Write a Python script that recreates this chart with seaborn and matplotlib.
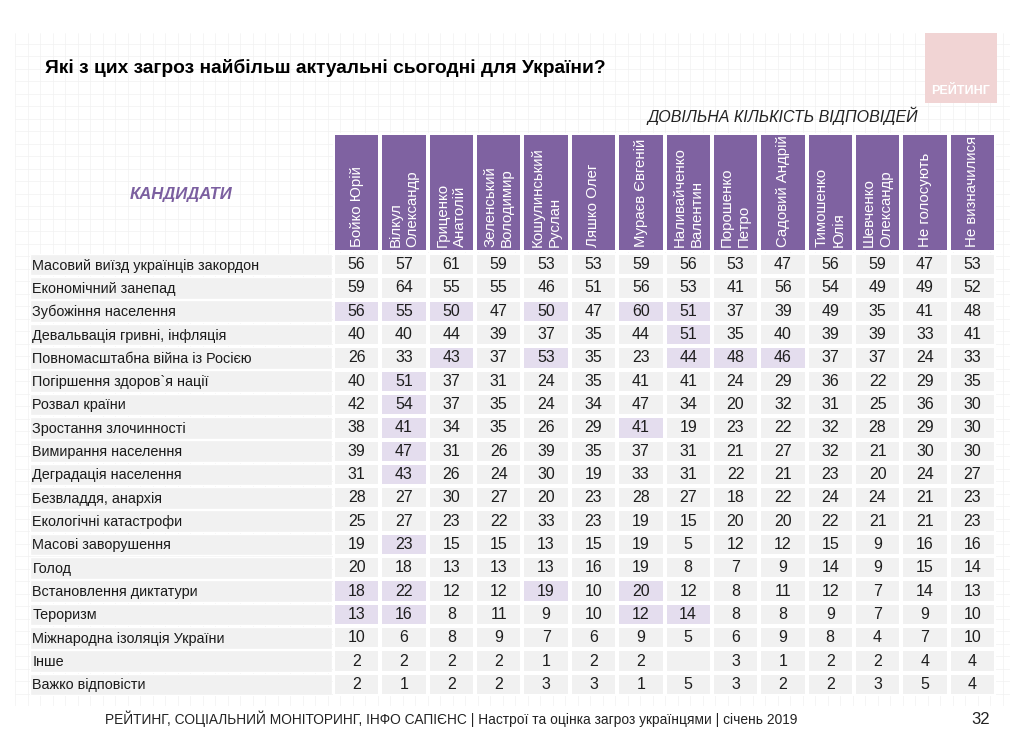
import numpy as np
import pandas as pd
import matplotlib.pyplot as plt
import seaborn as sns
from matplotlib.colors import ListedColormap
from matplotlib import font_manager

# --- data -------------------------------------------------------------
candidates = ["Бойко Юрій", "Вілкул\nОлександр", "Гриценко\nАнатолій",
              "Зеленський\nВолодимир", "Кошулинський\nРуслан", "Ляшко Олег",
              "Мураєв Євгеній", "Наливайченко\nВалентин", "Порошенко\nПетро",
              "Садовий Андрій", "Тимошенко\nЮлія", "Шевченко\nОлександр",
              "Не голосують", "Не визначилися"]

threats = ["Масовий виїзд українців закордон", "Економічний занепад",
           "Зубожіння населення", "Девальвація гривні, інфляція",
           "Повномасштабна війна із Росією", "Погіршення здоров`я нації",
           "Розвал країни", "Зростання злочинності", "Вимирання населення",
           "Деградація населення", "Безвладдя, анархія", "Екологічні катастрофи",
           "Масові заворушення", "Голод", "Встановлення диктатури", "Тероризм",
           "Міжнародна ізоляція України", "Інше", "Важко відповісти"]

values = [
    [56, 57, 61, 59, 53, 53, 59, 56, 53, 47, 56, 59, 47, 53],
    [59, 64, 55, 55, 46, 51, 56, 53, 41, 56, 54, 49, 49, 52],
    [56, 55, 50, 47, 50, 47, 60, 51, 37, 39, 49, 35, 41, 48],
    [40, 40, 44, 39, 37, 35, 44, 51, 35, 40, 39, 39, 33, 41],
    [26, 33, 43, 37, 53, 35, 23, 44, 48, 46, 37, 37, 24, 33],
    [40, 51, 37, 31, 24, 35, 41, 41, 24, 29, 36, 22, 29, 35],
    [42, 54, 37, 35, 24, 34, 47, 34, 20, 32, 31, 25, 36, 30],
    [38, 41, 34, 35, 26, 29, 41, 19, 23, 22, 32, 28, 29, 30],
    [39, 47, 31, 26, 39, 35, 37, 31, 21, 27, 32, 21, 30, 30],
    [31, 43, 26, 24, 30, 19, 33, 31, 22, 21, 23, 20, 24, 27],
    [28, 27, 30, 27, 20, 23, 28, 27, 18, 22, 24, 24, 21, 23],
    [25, 27, 23, 22, 33, 23, 19, 15, 20, 20, 22, 21, 21, 23],
    [19, 23, 15, 15, 13, 15, 19, 5, 12, 12, 15, 9, 16, 16],
    [20, 18, 13, 13, 13, 16, 19, 8, 7, 9, 14, 9, 15, 14],
    [18, 22, 12, 12, 19, 10, 20, 12, 8, 11, 12, 7, 14, 13],
    [13, 16, 8, 11, 9, 10, 12, 14, 8, 8, 9, 7, 9, 10],
    [10, 6, 8, 9, 7, 6, 9, 5, 6, 9, 8, 4, 7, 10],
    [2, 2, 2, 2, 1, 2, 2, None, 3, 1, 2, 2, 4, 4],
    [2, 1, 2, 2, 3, 3, 1, 5, 3, 2, 2, 3, 5, 4],
]

# highlighted cells (column indices per row)
highlight_cols = [[], [], [0, 1, 2, 4, 6, 7], [7], [2, 4, 7, 8, 9], [1], [1],
                  [1, 6], [1], [1], [], [], [1], [], [0, 1, 4, 6],
                  [0, 1, 6, 7], [], [], []]

title = "Які з цих загроз найбільш актуальні сьогодні для України?"
subtitle = "ДОВІЛЬНА КІЛЬКІСТЬ ВІДПОВІДЕЙ"
footer = ("РЕЙТИНГ, СОЦІАЛЬНИЙ МОНІТОРИНГ, ІНФО САПІЄНС | Настрої та оцінка "
          "загроз українцями | січень 2019")

# --- styling ----------------------------------------------------------
sns.set_theme(style="white")
installed = {f.name for f in font_manager.fontManager.ttflist}
regular = "Liberation Sans"
narrow = "Liberation Sans Narrow" if "Liberation Sans Narrow" in installed else regular
plt.rcParams['font.family'] = [regular, 'DejaVu Sans']

purple = "#7f62a1"
cell_grey = "#f1f1f1"
cell_hi = "#e4ddee"

df = pd.DataFrame(values, index=threats, columns=candidates, dtype=float)
hi = pd.DataFrame(0, index=threats, columns=candidates)
for i, cols in enumerate(highlight_cols):
    for j in cols:
        hi.iloc[i, j] = 1
annot = df.map(lambda v: "" if pd.isna(v) else f"{int(v)}")

W, H = 1024, 732
fig = plt.figure(figsize=(W / 100, H / 100), dpi=100)
fig.patch.set_facecolor("white")


def px_axes(x0, y0, x1, y1, **kw):
    return fig.add_axes([x0 / W, 1 - y1 / H, (x1 - x0) / W, (y1 - y0) / H], **kw)


# faint background grid
bg = px_axes(15, 33, 1010, 706, zorder=-5)
bg.set_xlim(0, 995)
bg.set_ylim(0, 673)
bg.set_xticks(np.arange(0, 995, 12.5))
bg.set_yticks(np.arange(0, 673, 12.5))
bg.grid(True, color="#f2f2f2", lw=0.5)
bg.tick_params(length=0, labelbottom=False, labelleft=False)
for s in bg.spines.values():
    s.set_visible(False)

# data cells
ax = px_axes(333, 253, 996, 696)
sns.heatmap(hi, ax=ax, cmap=ListedColormap([cell_grey, cell_hi]), vmin=0, vmax=1,
            cbar=False, annot=annot.values, fmt="", linewidths=1.6,
            linecolor="white", xticklabels=False, yticklabels=False,
            annot_kws={"fontsize": 11.5, "color": "#1e1e1e", "family": narrow})
ax.set_xlabel("")
ax.set_ylabel("")

# header cells
hax = px_axes(333, 133, 996, 252)
sns.heatmap(np.zeros((1, len(candidates))), ax=hax, cmap=ListedColormap([purple]),
            cbar=False, linewidths=1.6, linecolor="white",
            xticklabels=False, yticklabels=False)
for j, name in enumerate(candidates):
    hax.text(j + 0.5, 0.96, name, rotation=90, ha="center", va="bottom",
             multialignment="left", color="white", fontsize=10.8,
             linespacing=1.25)

# row labels
lax = px_axes(30, 253, 332, 696)
sns.barplot(x=[1] * len(threats), y=list(range(len(threats))), orient="h",
            ax=lax, color=cell_grey, width=0.93, saturation=1)
lax.set_xlim(0, 1)
lax.set_ylim(len(threats) - 0.5, -0.5)
lax.axis("off")
for i, t in enumerate(threats):
    lax.text(0.008, i + 0.04, t, ha="left", va="center", fontsize=10.4,
             color="#1a1a1a")

# texts
fig.text(45 / W, 1 - 68 / H, title, ha="left", va="center", fontsize=13.8,
         fontweight="bold", family=narrow, color="black")
fig.text(918 / W, 1 - 116 / H, subtitle, ha="right", va="center", fontsize=11.5,
         style="italic", family=narrow, color="#222222")
fig.text(181 / W, 1 - 194 / H, "КАНДИДАТИ", ha="center", va="center",
         fontsize=12, fontweight="bold", style="italic", color="#7b5fa0")
fig.text(105 / W, 1 - 719 / H, footer, ha="left", va="center", fontsize=9.9,
         family=narrow, color="#222222")
fig.text(990 / W, 1 - 719 / H, "32", ha="right", va="center", fontsize=12,
         family=narrow, color="#222222")

# logo box
logo = px_axes(925, 33, 997, 103)
logo.set_facecolor("#f1d4d4")
logo.set_xticks([])
logo.set_yticks([])
for s in logo.spines.values():
    s.set_visible(False)
logo.text(0.5, 0.17, "РЕЙТИНГ", ha="center", va="center", color="white",
          fontsize=9, fontweight="bold", transform=logo.transAxes)

fig.savefig("out.png", dpi=100)
